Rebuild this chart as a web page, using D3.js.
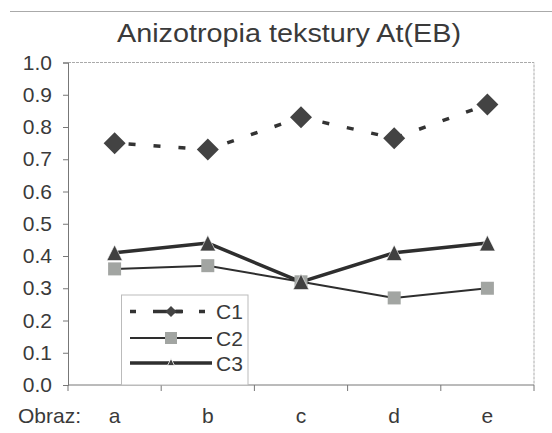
<!DOCTYPE html>
<html>
<head>
<meta charset="utf-8">
<script src="https://cdn.jsdelivr.net/npm/d3@7"></script>
<style>
  html, body { margin: 0; padding: 0; background: #fff; }
  svg { display: block; font-family: "Liberation Sans", Arial, sans-serif; }
</style>
</head>
<body>
<svg id="chart" width="552" height="433"></svg>
<script>
// Images along the x axis
const categories = ["a", "b", "c", "d", "e"];
// Texture anisotropy At(EB) for each series
const seriesNames = ["C1", "C2", "C3"];
const c1 = [0.75, 0.73, 0.83, 0.765, 0.87];
const c2 = [0.36, 0.37, 0.32, 0.27, 0.30];
const c3 = [0.41, 0.44, 0.32, 0.41, 0.44];
const yTicks = [0, 0.1, 0.2, 0.3, 0.4, 0.5, 0.6, 0.7, 0.8, 0.9, 1.0];
const titleText = "Anizotropia tekstury At(EB)";
const xAxisPrefix = "Obraz:";

const svg = d3.select("#chart");
const plot = { left: 68, right: 534, top: 62.5, bottom: 385 };
const textColor = "#3a3a3a";

const x = d3.scaleBand().domain(categories).range([plot.left, plot.right]).paddingInner(0).paddingOuter(0);
const y = d3.scaleLinear().domain([0, 1]).range([plot.bottom, plot.top]);

// chart area top edge
svg.append("line").attr("x1", 10).attr("x2", 552).attr("y1", 11.5).attr("y2", 11.5)
  .attr("stroke", "#aaa").attr("stroke-width", 1);

// title
svg.append("text")
  .attr("x", 289).attr("y", 42)
  .attr("text-anchor", "middle")
  .attr("font-size", 26)
  .attr("fill", textColor)
  .attr("textLength", 344).attr("lengthAdjust", "spacingAndGlyphs")
  .text(titleText);

// plot area border (top and right)
svg.append("path")
  .attr("d", `M${plot.left},${plot.top}H${plot.right}V${plot.bottom}`)
  .attr("fill", "none").attr("stroke", "#aaa").attr("stroke-width", 1)
  .attr("stroke-dasharray", "3,1");

// y axis
const yAxis = d3.axisLeft(y).tickValues(yTicks).tickFormat(d3.format(".1f")).tickSize(5).tickPadding(11);
const gy = svg.append("g").attr("transform", `translate(${plot.left},0)`).call(yAxis);
gy.select(".domain").attr("stroke", "#777");
gy.selectAll(".tick line").attr("stroke", "#777");
gy.selectAll(".tick text").attr("font-size", 21).attr("fill", textColor)
  .attr("font-family", "'Liberation Sans', Arial, sans-serif");

// x axis: ticks at category boundaries, labels at centers
const gx = svg.append("g").attr("transform", `translate(0,${plot.bottom})`);
gx.append("line").attr("x1", plot.left).attr("x2", plot.right).attr("stroke", "#777");
const boundaries = categories.map(c => x(c)).concat([plot.right]);
gx.selectAll("line.tk").data(boundaries).enter().append("line").attr("class", "tk")
  .attr("x1", d => d).attr("x2", d => d).attr("y1", 0).attr("y2", 6).attr("stroke", "#777");
gx.selectAll("text.cat").data(categories).enter().append("text").attr("class", "cat")
  .attr("x", d => x(d) + x.bandwidth() / 2).attr("y", 38)
  .attr("text-anchor", "middle").attr("font-size", 21).attr("fill", textColor)
  .text(d => d);
svg.append("text").attr("x", 18).attr("y", 423).attr("font-size", 21).attr("fill", textColor)
  .text(xAxisPrefix);

const cx = d => x(d) + x.bandwidth() / 2;
const line = d3.line().x((d, i) => cx(categories[i])).y(d => y(d));

// C2 line and markers
svg.append("path").datum(c2).attr("d", line).attr("fill", "none")
  .attr("stroke", "#2e2e2e").attr("stroke-width", 2);
// C3 line
svg.append("path").datum(c3).attr("d", line).attr("fill", "none")
  .attr("stroke", "#2e2e2e").attr("stroke-width", 3.5);
// C1 dashed line
svg.append("path").datum(c1).attr("d", line).attr("fill", "none")
  .attr("stroke", "#333").attr("stroke-width", 3.5).attr("stroke-dasharray", "7,18")
  .attr("stroke-dashoffset", -14);

const sym = (type, size) => d3.symbol().type(type).size(size)();
const diamondPath = s => `M0,${-s}L${s},0L0,${s}L${-s},0Z`;
const trianglePath = s => `M0,${-s}L${s},${s}L${-s},${s}Z`;

svg.selectAll("rect.c2").data(c2).enter().append("rect").attr("class", "c2")
  .attr("x", (d, i) => cx(categories[i]) - 6.5).attr("y", d => y(d) - 6.5)
  .attr("width", 13).attr("height", 13).attr("fill", "#a2a5a2");

svg.selectAll("path.c3").data(c3).enter().append("path").attr("class", "c3")
  .attr("d", trianglePath(7.8))
  .attr("transform", (d, i) => `translate(${cx(categories[i])},${y(d)})`)
  .attr("fill", "#404040").attr("stroke", "#fff").attr("stroke-width", 0.6);

svg.selectAll("path.c1").data(c1).enter().append("path").attr("class", "c1")
  .attr("d", diamondPath(11))
  .attr("transform", (d, i) => `translate(${cx(categories[i])},${y(d)})`)
  .attr("fill", "#434343");

// legend
const lg = svg.append("g");
lg.append("rect").attr("x", 121.5).attr("y", 295).attr("width", 126.5).attr("height", 90)
  .attr("fill", "#fff").attr("stroke", "#bbb").attr("stroke-width", 1);
const rowY = [311.5, 338, 363];
const lx1 = 130, lx2 = 212, lmx = 171;
lg.append("line").attr("x1", lx1).attr("x2", lx2).attr("y1", rowY[0]).attr("y2", rowY[0])
  .attr("stroke", "#333").attr("stroke-width", 3.5).attr("stroke-dasharray", "6,17");
lg.append("line").attr("x1", lmx - 12).attr("x2", lmx + 12).attr("y1", rowY[0]).attr("y2", rowY[0])
  .attr("stroke", "#333").attr("stroke-width", 3.5);
lg.append("path").attr("d", diamondPath(5.5)).attr("transform", `translate(${lmx},${rowY[0]})`).attr("fill", "#434343");
lg.append("line").attr("x1", lx1).attr("x2", lx2).attr("y1", rowY[1]).attr("y2", rowY[1])
  .attr("stroke", "#2e2e2e").attr("stroke-width", 2);
lg.append("rect").attr("x", lmx - 6).attr("y", rowY[1] - 6).attr("width", 12).attr("height", 12).attr("fill", "#a2a5a2");
lg.append("line").attr("x1", lx1).attr("x2", lx2).attr("y1", rowY[2]).attr("y2", rowY[2])
  .attr("stroke", "#2e2e2e").attr("stroke-width", 3.5);
lg.append("path").attr("d", trianglePath(3.5)).attr("transform", `translate(${lmx},${rowY[2] - 1})`).attr("fill", "#404040")
  .attr("stroke", "#fff").attr("stroke-width", 0.8);
lg.selectAll("text.lt").data(seriesNames).enter().append("text").attr("class", "lt")
  .attr("x", 216).attr("y", (d, i) => rowY[i] + 7.5).attr("font-size", 21).attr("fill", textColor)
  .text(d => d);
</script>
</body>
</html>
